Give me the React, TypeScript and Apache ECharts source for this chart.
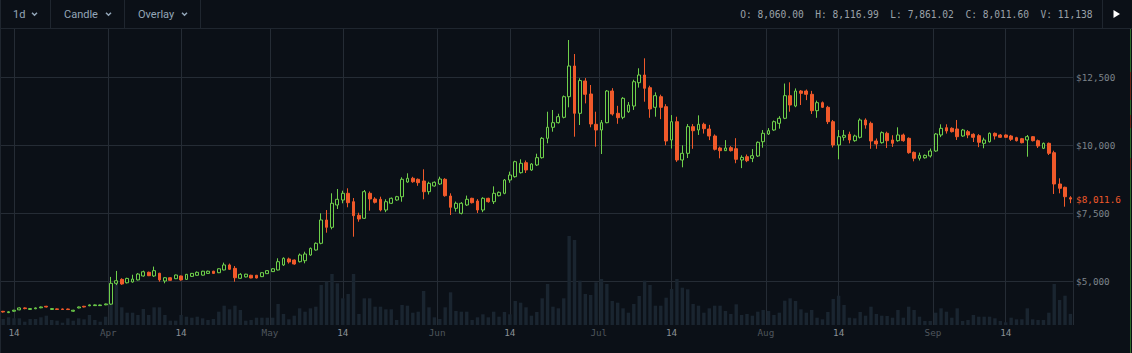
import React, { useEffect, useRef } from "react";
import * as echarts from "echarts";

// ---------- DATA (daily candles, Mar 12 – Sep 26) ----------
// each candle: [open, close, low, high]
const marchOHLC = [
  [3885, 3862, 3840, 3900], [3838, 3868, 3820, 3885], [3890, 3925, 3870, 3940], [3940, 4010, 3925, 4030],
  [4010, 3985, 3960, 4030], [3955, 3985, 3940, 4000], [3980, 4010, 3965, 4025], [4015, 4045, 4000, 4060],
  [4070, 4045, 4030, 4085], [3955, 3985, 3935, 4000], [3975, 3955, 3940, 3990], [3972, 3952, 3940, 3985],
  [3970, 3950, 3935, 3985], [3890, 3925, 3870, 3940], [4010, 4045, 3995, 4060], [4070, 4045, 4030, 4085],
  [4090, 4120, 4075, 4135], [4095, 4120, 4080, 4135], [4095, 4118, 4080, 4130], [4125, 4155, 4110, 4170],
];
const aprilOHLC = [
  [4150, 4915, 4120, 5150], [4915, 5010, 4850, 5370], [5060, 4890, 4860, 5100], [4935, 5095, 4910, 5120],
  [4965, 5070, 4940, 5230], [5040, 5255, 5020, 5290], [5185, 5340, 5160, 5380], [5320, 5195, 5180, 5345],
  [5185, 5380, 5150, 5530], [5285, 5040, 4975, 5300], [5000, 5120, 4915, 5140], [5120, 5025, 5010, 5135],
  [5085, 5220, 5070, 5235], [5185, 5040, 5010, 5200], [5060, 5245, 5040, 5260], [5170, 5280, 5150, 5295],
  [5210, 5320, 5195, 5350], [5215, 5360, 5200, 5375], [5280, 5360, 5265, 5380], [5360, 5280, 5260, 5375],
  [5305, 5450, 5290, 5465], [5405, 5590, 5390, 5675], [5590, 5430, 5410, 5640], [5465, 5120, 4975, 5550],
  [5100, 5245, 5080, 5290], [5150, 5250, 5130, 5265], [5210, 5110, 5100, 5230], [5210, 5110, 5095, 5225],
  [5160, 5305, 5145, 5320], [5270, 5380, 5260, 5395],
];
const mayOHLC = [
  [5345, 5450, 5330, 5470], [5405, 5710, 5390, 5835], [5590, 5835, 5555, 5870], [5810, 5700, 5640, 5860],
  [5770, 5625, 5600, 5790], [5710, 5955, 5680, 6010], [5746, 5993, 5650, 6077], [5956, 6200, 5930, 6230],
  [6140, 6386, 6120, 6420], [6386, 7243, 6350, 7489], [7243, 6974, 6776, 7610], [6974, 7857, 6900, 8224],
  [7794, 8004, 7647, 8382], [7978, 8224, 7857, 8320], [8224, 7879, 7710, 8408], [7915, 7401, 6629, 8050],
  [7415, 7279, 7180, 7510], [7305, 8283, 7280, 8346], [8224, 8015, 7585, 8290], [8015, 7893, 7850, 8080],
  [8004, 7610, 7560, 8100], [7610, 7915, 7530, 8004], [7857, 8040, 7830, 8070], [7978, 8099, 7950, 8130],
  [8099, 8739, 7915, 8812], [8640, 8776, 8614, 8960], [8776, 8650, 8610, 8830], [8739, 8614, 8500, 8770],
  [8676, 8283, 8004, 9107], [8283, 8592, 8180, 8650], [8493, 8629, 8470, 8660],
];
const juneOHLC = [
  [8566, 8750, 8530, 8835], [8739, 8136, 8100, 8780], [8125, 7710, 7426, 8224], [7672, 7857, 7550, 7920],
  [7489, 7857, 7450, 7900], [7794, 8004, 7760, 8140], [8040, 7879, 7850, 8060], [7941, 7610, 7500, 8010],
  [7610, 8040, 7530, 8080], [8040, 7915, 7880, 8060], [7915, 8224, 7830, 8480], [8136, 8260, 8110, 8290],
  [8224, 8713, 8190, 8750], [8713, 8897, 8610, 9020], [8835, 9386, 8800, 9420], [8982, 9327, 8950, 9474],
  [9350, 9081, 8970, 9430], [9081, 9301, 9050, 9330], [9265, 9534, 9230, 9680], [9534, 10246, 9500, 10290],
  [10246, 10651, 10063, 11224], [10651, 10820, 10489, 11287], [10820, 11041, 10790, 11150], [11018, 11776, 10980, 11820],
  [11776, 12904, 11386, 13860], [12904, 11165, 10305, 13345], [11165, 12368, 10735, 12454], [12353, 11864, 11530, 12460],
  [11875, 10772, 10651, 12206], [10761, 10551, 9937, 11224],
];
const julyOHLC = [
  [10551, 10820, 9669, 10919], [10820, 11985, 10800, 12020], [11985, 11140, 11080, 12090], [11165, 11004, 10780, 11440],
  [11018, 11717, 10950, 11760], [11224, 11470, 11180, 11580], [11433, 12327, 11290, 12400], [12290, 12574, 12110, 12820],
  [12574, 12085, 11592, 13187], [12107, 11324, 11000, 12180], [11386, 11813, 11040, 11935], [11776, 11386, 10950, 11850],
  [11408, 10147, 9990, 11500], [10184, 10857, 9870, 11100], [10857, 9449, 9380, 11040], [9449, 9694, 9180, 9990],
  [9694, 10674, 9520, 10770], [10674, 10526, 9860, 10770], [10551, 10761, 10370, 11090], [10761, 10600, 10420, 10820],
  [10588, 10331, 10180, 10740], [10331, 9842, 9800, 10390], [9890, 9791, 9510, 9940], [9791, 9890, 9780, 10180],
  [9901, 9791, 9760, 9960], [9864, 9474, 9330, 10250], [9449, 9544, 9150, 9620], [9570, 9423, 9370, 9650],
  [9511, 9607, 9370, 9850], [9596, 10099, 9560, 10130], [10121, 10430, 9900, 10550],
];
const augustOHLC = [
  [10404, 10526, 10370, 10620], [10551, 10857, 10520, 10900], [10797, 10982, 10600, 11060], [10982, 11813, 10950, 12260],
  [11813, 11470, 11224, 12305], [11433, 11985, 11390, 12080], [11985, 11900, 11470, 12020], [11985, 11864, 11650, 12040],
  [11864, 11261, 11140, 11990], [11261, 11556, 11000, 11630], [11556, 11386, 11360, 11600], [11386, 10857, 10770, 11440],
  [10857, 10000, 9910, 10920], [10000, 10306, 9474, 10551], [10283, 10356, 10160, 10551], [10393, 10184, 10060, 10490],
  [10159, 10331, 10120, 10380], [10283, 10919, 10240, 10980], [10919, 10735, 10600, 10980], [10797, 10147, 9860, 10860],
  [10147, 10037, 9860, 10240], [10085, 10453, 10050, 10500], [10430, 10159, 9890, 10490], [10184, 10061, 9930, 10360],
  [10159, 10368, 10120, 10650], [10368, 10159, 10120, 10420], [10246, 9717, 9680, 10280], [9730, 9511, 9400, 9760],
  [9511, 9620, 9430, 9720], [9530, 9620, 9500, 9650], [9596, 9779, 9540, 9870],
];
const septemberOHLC = [
  [9779, 10404, 9750, 10440], [10368, 10613, 10290, 10760], [10637, 10515, 10420, 10760], [10613, 10490, 10460, 10650],
  [10588, 10306, 10184, 10920], [10331, 10551, 10300, 10590], [10490, 10368, 10250, 10550], [10393, 10283, 10110, 10430],
  [10343, 10099, 9920, 10400], [10061, 10184, 9880, 10270], [10121, 10430, 10090, 10460], [10430, 10331, 10200, 10460],
  [10368, 10283, 10260, 10400], [10368, 10283, 10260, 10390], [10331, 10208, 10150, 10370], [10270, 10159, 10130, 10300],
  [10233, 10085, 10060, 10260], [10184, 10306, 9570, 10368], [10306, 10159, 10130, 10330], [10159, 9963, 9890, 10200],
  [9879, 10061, 9850, 10090], [10061, 9694, 9632, 10090], [9717, 8566, 8199, 9790], [8566, 8408, 8224, 8776],
  [8445, 8099, 7732, 8467], [8060.0, 8011.6, 7861.02, 8116.99],
];

// daily volume (BTC)
const marchVol = [6000, 7700, 6700, 6700, 3300, 6000, 6000, 7700, 9300, 5000, 4300, 2300, 6700, 4300, 6700, 5700, 10000, 5000, 3300, 8300];
const aprilVol = [38000, 42000, 17700, 12300, 12300, 10000, 16000, 10000, 17700, 17700, 10000, 4300, 4300, 10000, 8300, 7300, 8300, 6700, 5000, 6000, 13300, 19300, 15700, 19300, 15000, 4300, 5000, 7300, 7300, 7300];
const mayVol = [7300, 21000, 11000, 5700, 9300, 16700, 13300, 16700, 18300, 40000, 43300, 51000, 41700, 26700, 31000, 51000, 11000, 26700, 26700, 18300, 18300, 15700, 15700, 5000, 20000, 19300, 12300, 13300, 34000, 17700, 7700];
const juneVol = [6000, 17700, 32700, 14000, 13300, 13300, 5000, 7700, 10700, 7700, 13300, 8300, 13000, 10700, 24000, 22300, 17700, 9300, 13000, 26700, 41000, 18300, 16700, 26700, 89000, 85000, 44300, 31000, 30000, 42700];
const julyVol = [46000, 41000, 24000, 22300, 16700, 12300, 21000, 29000, 44300, 40000, 19300, 19300, 27300, 36000, 46000, 37300, 35700, 21000, 19300, 12300, 16700, 19300, 19300, 14000, 11000, 20700, 10000, 11000, 9300, 13300, 15000];
const augustVol = [14000, 10000, 12300, 24300, 26700, 24000, 15700, 12300, 15000, 7300, 5700, 13000, 26000, 29300, 20000, 7300, 6700, 13000, 9300, 18300, 11000, 9300, 9000, 7300, 15000, 7300, 18300, 15000, 8300, 4000, 4000];
const septemberVol = [12300, 16700, 13300, 7300, 16700, 4000, 5000, 10000, 8300, 8300, 8300, 6700, 4000, 2700, 7300, 5700, 5700, 16700, 5700, 5000, 5000, 12300, 41000, 25000, 29300, 11138];

const firstDay = { year: 2019, month: 2, day: 12 }; // 12 Mar 2019
const monthNames = ["Jan", "Feb", "Mar", "Apr", "May", "Jun", "Jul", "Aug", "Sep", "Oct", "Nov", "Dec"];
const toolbarItems = ["1d", "Candle", "Overlay"];
const priceTicks = { min: 2500, max: 15000, step: 2500 };

const ohlc = [...marchOHLC, ...aprilOHLC, ...mayOHLC, ...juneOHLC, ...julyOHLC, ...augustOHLC, ...septemberOHLC];
const volumes = [...marchVol, ...aprilVol, ...mayVol, ...juneVol, ...julyVol, ...augustVol, ...septemberVol];
const dates = ohlc.map((_, i) =>
  new Date(Date.UTC(firstDay.year, firstDay.month, firstDay.day + i)).toISOString().slice(0, 10)
);

// ---------- STYLE ----------
const BG = "#0b1017";
const GRID = "#252c35";
const BORDER = "#1f262f";
const UP = "#6fd04b";
const DOWN = "#f0592a";
const VOL = "#1a2530";
const MONO = "'DejaVu Sans Mono', monospace";
const SANS = "Roboto, 'Noto Sans', sans-serif";

const fmt2 = (v: number) => v.toLocaleString("en-US", { minimumFractionDigits: 2, maximumFractionDigits: 2 });

export default function App() {
  const ref = useRef<HTMLDivElement>(null);

  useEffect(() => {
    if (!ref.current) return;
    const chart = echarts.init(ref.current, undefined, { renderer: "svg" });

    const last = ohlc[ohlc.length - 1];
    const lastVol = volumes[volumes.length - 1];
    const header =
      `O: ${fmt2(last[0])}  H: ${fmt2(last[3])}  L: ${fmt2(last[2])}  C: ${fmt2(last[1])}  V: ${lastVol.toLocaleString("en-US")}`;

    const toolbarX = [13, 64, 138];
    const chevronX = [34.5, 108.5, 184.5];
    const separators = [50.5, 124.5, 200.5, 1102.5];

    const graphics: any[] = [
      { type: "rect", z: 100, shape: { x: 0, y: 0, width: 1132, height: 28 }, style: { fill: BG } },
      { type: "line", z: 101, shape: { x1: 0, y1: 28.5, x2: 1132, y2: 28.5 }, style: { stroke: BORDER, lineWidth: 1 } },
      { type: "line", z: 101, shape: { x1: 0.5, y1: 0, x2: 0.5, y2: 353 }, style: { stroke: BORDER, lineWidth: 1 } },
      ...separators.map((x) => ({
        type: "line", z: 101, shape: { x1: x, y1: 0, x2: x, y2: 28 }, style: { stroke: BORDER, lineWidth: 1 },
      })),
      ...toolbarItems.map((t, i) => ({
        type: "text", z: 102, x: toolbarX[i], y: 14.5,
        style: { text: t, fill: "#93a6b8", font: `11px ${SANS}`, textAlign: "left", textVerticalAlign: "middle", align: "left", verticalAlign: "middle" },
      })),
      ...chevronX.map((cx) => ({
        type: "polyline", z: 102,
        shape: { points: [[cx - 2.5, 12.8], [cx, 15.3], [cx + 2.5, 12.8]] },
        style: { stroke: "#93a6b8", lineWidth: 1.5, fill: null },
      })),
      {
        type: "text", z: 102, x: 1092.5, y: 14.5,
        style: { text: header, fill: "#9aa1a8", font: `9.6px ${MONO}`, textAlign: "right", textVerticalAlign: "middle", align: "right", verticalAlign: "middle" },
      },
      { type: "polygon", z: 102, shape: { points: [[1113.5, 10], [1120, 14], [1113.5, 18]] }, style: { fill: "#ffffff" } },
      // right edge strip
      { type: "line", z: 101, shape: { x1: 1130.5, y1: 29, x2: 1130.5, y2: 353 }, style: { stroke: "#2f6b2a", lineWidth: 1 } },
      { type: "line", z: 102, shape: { x1: 1130.5, y1: 72, x2: 1130.5, y2: 100 }, style: { stroke: "#6b2a18", lineWidth: 1 } },
      { type: "line", z: 102, shape: { x1: 1130.5, y1: 115, x2: 1130.5, y2: 128 }, style: { stroke: "#6b2a18", lineWidth: 1 } },
      { type: "line", z: 102, shape: { x1: 1130.5, y1: 158, x2: 1130.5, y2: 170 }, style: { stroke: "#6b2a18", lineWidth: 1 } },
    ];

    const isLabelDay = (v: string) => v.endsWith("-01") || v.endsWith("-14");

    const option: any = {
      animation: false,
      backgroundColor: BG,
      grid: [
        { left: 0.5, right: 58.9, top: 9, bottom: 4 },
        { left: 0.5, right: 58.9, top: 28, bottom: 28 },
      ],
      xAxis: [
        {
          type: "category", gridIndex: 0, data: dates,
          axisLine: { show: false }, axisTick: { show: false }, axisLabel: { show: false }, splitLine: { show: false },
        },
        {
          type: "category", gridIndex: 1, data: dates,
          axisLine: { show: false }, axisTick: { show: false },
          axisLabel: {
            interval: (_i: number, v: string) => isLabelDay(v),
            margin: 3,
            formatter: (v: string) => {
              const [, m, d] = v.split("-");
              return d === "01" ? `{m|${monthNames[Number(m) - 1]}}` : `{d|${Number(d)}}`;
            },
            rich: {
              m: { color: "#4f565d", fontFamily: MONO, fontSize: 9.3, padding: [0, 5.4, 0, 0] },
              d: { color: "#8a9096", fontFamily: MONO, fontSize: 9.3 },
            },
          },
          splitLine: {
            show: true,
            interval: (_i: number, v: string) => v.endsWith("-01"),
            lineStyle: { color: GRID, width: 1 },
          },
        },
      ],
      yAxis: [
        {
          type: "value", gridIndex: 0, position: "right",
          min: priceTicks.min, max: priceTicks.max, interval: priceTicks.step,
          axisLine: { show: false }, axisTick: { show: false },
          axisLabel: {
            showMinLabel: false, showMaxLabel: false, margin: 3,
            color: "#7b838a", fontFamily: MONO, fontSize: 9.3,
            formatter: (v: number) => "$" + v.toLocaleString("en-US"),
          },
          splitLine: { show: true, showMinLine: false, showMaxLine: false, lineStyle: { color: GRID, width: 1 } },
        },
        { type: "value", gridIndex: 1, min: 0, max: 297000, show: false },
      ],
      series: [
        {
          type: "bar", xAxisIndex: 1, yAxisIndex: 1, data: volumes, barWidth: 3.4,
          itemStyle: { color: VOL }, silent: true, z: 1,
          markLine: {
            silent: true, symbol: ["none", "none"], z: 1,
            label: { show: false },
            lineStyle: { color: GRID, type: "solid", width: 1 },
            data: dates.filter((d) => d.endsWith("-14")).map((d) => ({ xAxis: d })),
          },
        },
        {
          type: "candlestick", xAxisIndex: 0, yAxisIndex: 0, data: ohlc, barWidth: 3.3, z: 3, silent: true,
          itemStyle: { color: BG, color0: DOWN, borderColor: UP, borderColor0: DOWN, borderWidth: 1 },
          markLine: {
            silent: true, symbol: ["none", "none"],
            lineStyle: { color: "rgba(0,0,0,0)", width: 1, type: "solid" },
            label: {
              show: true, position: "end", distance: 3,
              formatter: () => "$" + last[1].toLocaleString("en-US", { minimumFractionDigits: 1, maximumFractionDigits: 1 }),
              color: DOWN, fontFamily: MONO, fontSize: 9.3,
            },
            data: [{ yAxis: last[1] }],
          },
        },
      ],
      graphic: { elements: graphics },
    };

    chart.setOption(option);
    return () => chart.dispose();
  }, []);

  return (
    <div
      ref={ref}
      style={{ position: "fixed", left: 0, top: 0, width: 1132, height: 353, background: BG }}
    />
  );
}
